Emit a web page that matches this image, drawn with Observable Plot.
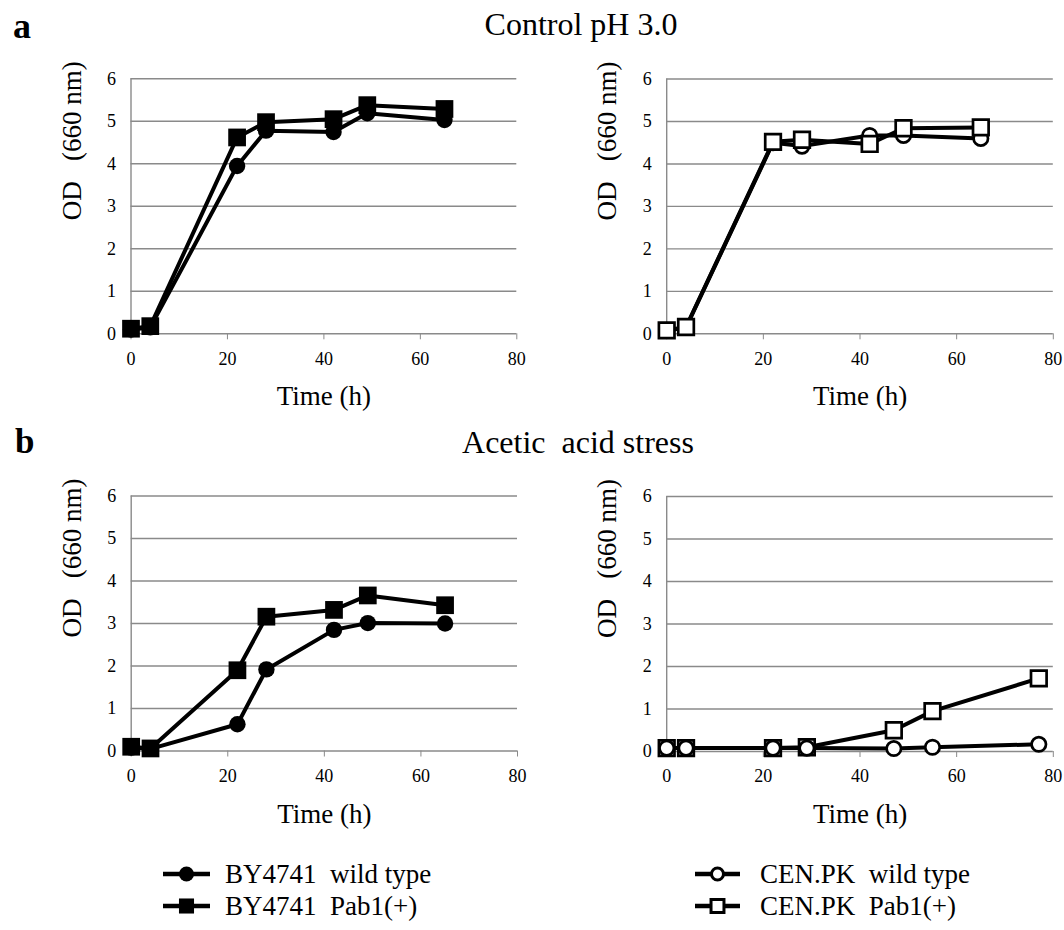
<!DOCTYPE html>
<html>
<head>
<meta charset="utf-8">
<script src="https://cdn.jsdelivr.net/npm/d3@7"></script>
<script src="https://cdn.jsdelivr.net/npm/@observablehq/plot@0.6"></script>
<style>
html, body { margin: 0; padding: 0; background: #fff; }
#root { position: relative; width: 1064px; height: 930px; overflow: hidden; background: #fff; font-family: "Liberation Serif", "Times New Roman", serif; }
#root > svg, #root > figure { position: absolute; margin: 0; }
#root svg text { font-family: "Liberation Serif", "Times New Roman", serif !important; }
</style>
</head>
<body>
<div id="root"></div>
<script>
// ---- data ----
const xTicks = [0, 20, 40, 60, 80];
const yTicks = [0, 1, 2, 3, 4, 5, 6];

const seriesNames = ["BY4741  wild type", "BY4741  Pab1(+)", "CEN.PK  wild type", "CEN.PK  Pab1(+)"];
const panelTitles = ["Control pH 3.0", "Acetic  acid stress"];
const panelLetters = ["a", "b"];

const timeControl = [0, 4, 22, 28, 42, 49, 65];
const byWtControl = [0.10, 0.15, 3.95, 4.78, 4.75, 5.19, 5.03];
const byPabControl = [0.12, 0.18, 4.62, 4.98, 5.05, 5.38, 5.29];
const cenWtControl = [0.08, 0.15, 4.50, 4.42, 4.67, 4.67, 4.60];
const cenPabControl = [0.08, 0.16, 4.52, 4.57, 4.47, 4.84, 4.86];

const timeByAcetic = [0, 4, 22, 28, 42, 49, 65];
const byWtAcetic = [0.08, 0.05, 0.63, 1.92, 2.85, 3.01, 3.00];
const byPabAcetic = [0.10, 0.06, 1.90, 3.16, 3.32, 3.66, 3.43];

const timeCenAcetic = [0, 4, 22, 29, 47, 55, 77];
const cenWtAcetic = [0.08, 0.08, 0.08, 0.08, 0.07, 0.10, 0.17];
const cenPabAcetic = [0.08, 0.08, 0.08, 0.10, 0.50, 0.95, 1.72];

// ---- styles ----
const FONT = "Liberation Serif, Times New Roman, serif";
const GRID = "#8a8a8a";
const styles = {
  byWt:  {symbol: "circle", r: 8.2, fill: "black", stroke: "none", strokeWidth: 0},
  byPab: {symbol: "square", r: 10,  fill: "black", stroke: "none", strokeWidth: 0},
  cenWt: {symbol: "circle", r: 7.2, fill: "white", stroke: "black", strokeWidth: 2.7},
  cenPab:{symbol: "square", r: 8.8, fill: "white", stroke: "black", strokeWidth: 2.7}
};

function rows(times, values) {
  return times.map((t, i) => ({t, v: values[i]}));
}

const root = document.getElementById("root");

function panel({left, top, width, height, x0, x80, y6, y0, series}) {
  const marks = [
    Plot.gridY(yTicks, {stroke: GRID, strokeOpacity: 1, strokeWidth: 1.4}),
    Plot.ruleX([0], {stroke: GRID, strokeWidth: 1.4}),
    Plot.axisX(xTicks, {tickSize: 6, tickPadding: 12, stroke: GRID, fill: "black", fontSize: 18, fontFamily: FONT, label: null}),
    Plot.axisY(yTicks, {tickSize: 0, tickPadding: 15, fill: "black", fontSize: 18, fontFamily: FONT, label: null}),
    Plot.text(["OD\u00a0\u00a0\u00a0(660 nm)"], {text: d => d, frameAnchor: "left", rotate: -90, dx: -59, dy: 14, fontSize: 27, fontFamily: FONT, fill: "black", lineAnchor: "middle"}),
    Plot.text(["Time (h)"], {text: d => d, frameAnchor: "bottom", dy: 63, fontSize: 27, fontFamily: FONT, fill: "black", lineAnchor: "middle"})
  ];
  for (const s of series) {
    const d = rows(s.t, s.v);
    marks.push(Plot.line(d, {x: "t", y: "v", stroke: "black", strokeWidth: 4, strokeLinejoin: "miter"}));
    marks.push(Plot.dot(d, {x: "t", y: "v", ...s.style}));
  }
  const chart = Plot.plot({
    width, height,
    marginLeft: x0 - left,
    marginRight: left + width - x80,
    marginTop: y6 - top,
    marginBottom: top + height - y0,
    x: {domain: [0, 80]},
    y: {domain: [0, 6]},
    style: {fontFamily: FONT, fontSize: "18px", color: "black", background: "transparent", overflow: "visible"},
    marks
  });
  chart.style.left = left + "px";
  chart.style.top = top + "px";
  root.appendChild(chart);
}

// ---- overlay for titles & legend ----
const svg = d3.select(root).append("svg")
  .attr("width", 1064).attr("height", 930)
  .style("left", "0px").style("top", "0px")
  .style("font-family", FONT);

svg.append("text").text(panelLetters[0]).attr("x", 13).attr("y", 38)
  .attr("font-size", 36).attr("font-weight", "bold");
svg.append("text").text(panelLetters[1]).attr("x", 15).attr("y", 453)
  .attr("font-size", 35).attr("font-weight", "bold");
svg.append("text").text(panelTitles[0]).attr("x", 581).attr("y", 35)
  .attr("font-size", 32).attr("text-anchor", "middle").style("white-space", "pre");
svg.append("text").text(panelTitles[1]).attr("x", 578).attr("y", 453)
  .attr("font-size", 32).attr("text-anchor", "middle").style("white-space", "pre");

// ---- panels ----
panel({left: 0, top: 40, width: 540, height: 380, x0: 130.5, x80: 516.3, y6: 78.3, y0: 333.3,
  series: [
    {t: timeControl, v: byWtControl, style: styles.byWt},
    {t: timeControl, v: byPabControl, style: styles.byPab}
  ]});
panel({left: 530, top: 40, width: 534, height: 380, x0: 666.2, x80: 1052.8, y6: 78.5, y0: 333.3,
  series: [
    {t: timeControl, v: cenWtControl, style: styles.cenWt},
    {t: timeControl, v: cenPabControl, style: styles.cenPab}
  ]});
panel({left: 0, top: 455, width: 540, height: 380, x0: 130.7, x80: 517, y6: 495.5, y0: 750.5,
  series: [
    {t: timeByAcetic, v: byWtAcetic, style: styles.byWt},
    {t: timeByAcetic, v: byPabAcetic, style: styles.byPab}
  ]});
panel({left: 530, top: 455, width: 534, height: 380, x0: 666.2, x80: 1052.8, y6: 496, y0: 751,
  series: [
    {t: timeCenAcetic, v: cenPabAcetic, style: styles.cenPab},
    {t: timeCenAcetic, v: cenWtAcetic, style: styles.cenWt}
  ]});

// ---- legend ----
const legendItems = [
  {name: seriesNames[0], style: styles.byWt,  x1: 163, x2: 210, tx: 225, y: 874, r: 7.5},
  {name: seriesNames[1], style: styles.byPab, x1: 163, x2: 210, tx: 225, y: 906, r: 8.5},
  {name: seriesNames[2], style: styles.cenWt, x1: 695, x2: 740, tx: 760, y: 874, r: 6},
  {name: seriesNames[3], style: styles.cenPab, x1: 695, x2: 740, tx: 760, y: 906, r: 7.3}
];
const lg = svg.append("g");
for (const it of legendItems) {
  const cx = (it.x1 + it.x2) / 2;
  lg.append("line").attr("x1", it.x1).attr("x2", it.x2).attr("y1", it.y).attr("y2", it.y)
    .attr("stroke", "black").attr("stroke-width", 4.5);
  const sym = it.style.symbol === "square" ? d3.symbolSquare : d3.symbolCircle;
  lg.append("path").attr("d", d3.symbol(sym, Math.PI * it.r * it.r)())
    .attr("transform", `translate(${cx},${it.y})`)
    .attr("fill", it.style.fill)
    .attr("stroke", it.style.stroke === "none" ? "none" : "black")
    .attr("stroke-width", 3);
  lg.append("text").text(it.name).attr("x", it.tx).attr("y", it.y + 9)
    .attr("font-size", 27).style("white-space", "pre");
}
</script>
</body>
</html>
